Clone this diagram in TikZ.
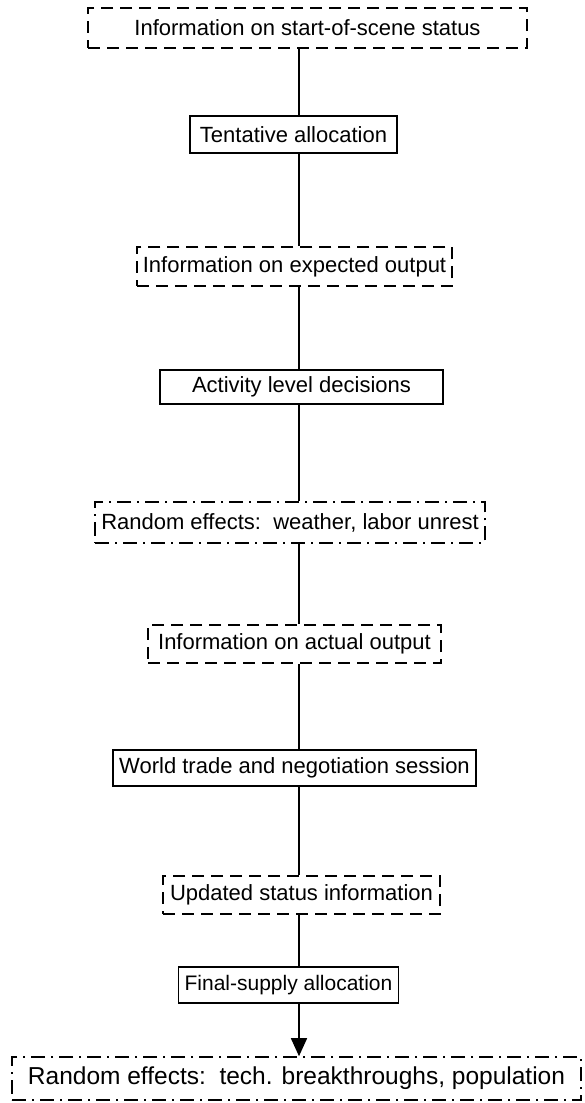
\documentclass[tikz,border=0pt]{standalone}
\usepackage{fontspec}
\setmainfont{Liberation Sans}
\usetikzlibrary{arrows.meta}
\tikzset{
  base/.style={draw=black, line width=1.6pt, inner xsep=6pt, inner ysep=0pt, font=\fontsize{22}{26}\selectfont, text=black},
  solidbox/.style={base},
  dashbox/.style={base, dash pattern=on 12pt off 7pt},
  dotbox/.style={base, dash pattern=on 14pt off 6pt on 2pt off 6pt},
  link/.style={draw=black, line width=1.6pt},
  lastlink/.style={link, -{Triangle[width=16pt,length=18pt]}}
}
\newcommand{\boxat}[7]{% style, name, l, t, r, b, text
  \node[#1, minimum width={(#5)-(#3)}, minimum height={(#6)-(#4)}] (#2) at ({((#3)+(#5))/2},{((#4)+(#6))/2}) {#7};}
\begin{document}
\begin{tikzpicture}[x=1pt,y=-1pt]
\useasboundingbox[fill=white] (0,0) rectangle (584,1103);
\coordinate (spine) at (299,0);
\boxat{dashbox}{b1}{88}{8}{527}{48}{Information on start-of-scene status}
\boxat{solidbox}{b2}{190}{116}{397}{153}{Tentative allocation}
\boxat{dashbox}{b3}{146}{247}{443}{286}{Information on expected output}
\boxat{solidbox}{b4}{160}{370}{443}{404}{Activity level decisions}
\boxat{dotbox}{b5}{110}{502}{470}{543}{Random effects:\ \ weather, labor unrest}
\boxat{dashbox}{b6}{148}{625}{441}{663}{Information on actual output}
\boxat{solidbox}{b7}{118}{750}{471}{786}{World trade and negotiation session}
\boxat{dashbox}{b8}{163}{876}{440}{914}{Updated status information}
\boxat{solidbox}{b9}{184}{967}{393}{1003}{\fontsize{21}{25}\selectfont Final-supply allocation}
\boxat{dotbox}{b10}{12}{1057}{581}{1100}{\fontsize{24.5}{29}\selectfont Random effects:\ \ tech. breakthroughs, population}
\foreach \a/\b in {b1/b2,b2/b3,b3/b4,b4/b5,b5/b6,b6/b7,b7/b8,b8/b9}
  \draw[link] (\a.south -| spine) -- (\b.north -| spine);
\draw[lastlink] (b9.south -| spine) -- (b10.north -| spine);
\end{tikzpicture}
\end{document}
